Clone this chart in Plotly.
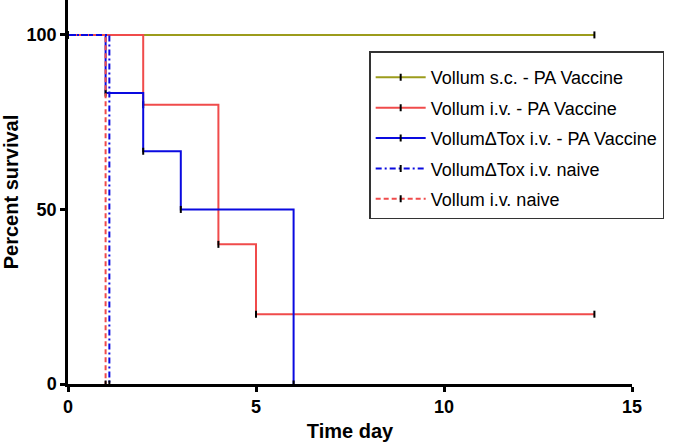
import plotly.graph_objects as go

# Kaplan-Meier data (time in days, percent survival)
sc_vac_t = [0, 14]
sc_vac_s = [100, 100]

iv_vac_t = [0, 2, 4, 5, 14]
iv_vac_s = [100, 80, 40, 20, 20]

dtox_vac_t = [0, 1, 2, 3, 6]
dtox_vac_s = [100, 83.33, 66.67, 50, 0]

dtox_naive_t = [0, 1.1]
dtox_naive_s = [100, 0]

iv_naive_t = [0, 1.0]
iv_naive_s = [100, 0]

names = ["Vollum s.c. - PA Vaccine", "Vollum i.v. - PA Vaccine",
         "Vollum\u0394Tox i.v. - PA Vaccine", "Vollum\u0394Tox i.v. naive",
         "Vollum i.v. naive"]

OLIVE = "#9C9C1C"
RED = "#F04B4B"
BLUE = "#0A0AE0"

FONT = "Arial, 'Liberation Sans', sans-serif"

series = [
    # (t, s, name, color, dash, legendrank) in drawing order
    (sc_vac_t, sc_vac_s, names[0], OLIVE, "solid", 1),
    (iv_vac_t, iv_vac_s, names[1], RED, "solid", 2),
    (dtox_vac_t, dtox_vac_s, names[2], BLUE, "solid", 3),
    (iv_naive_t, iv_naive_s, names[4], RED, "5px,3px", 5),
    (dtox_naive_t, dtox_naive_s, names[3], BLUE, "6px,3px,2px,3px", 4),
]

fig = go.Figure()
for t, s, name, color, dash, rank in series:
    fig.add_trace(go.Scatter(
        x=t, y=s, name=name, mode="lines+markers",
        line=dict(color=color, width=2, dash=dash, shape="hv"),
        marker=dict(symbol="line-ns", size=5, color="black",
                    line=dict(color="black", width=2)),
        legendrank=rank, legendgroup=name,
    ))

fig.update_layout(
    width=680, height=445,
    margin=dict(l=68, r=48, t=0, b=61, autoexpand=False),
    paper_bgcolor="white", plot_bgcolor="white",
    font=dict(family=FONT, color="black"),
    legend=dict(
        x=0.534, y=0.867, xanchor="left", yanchor="top",
        bordercolor="#333333", borderwidth=1.5, bgcolor="white",
        font=dict(family=FONT, size=18, color="black"),
        traceorder="grouped", tracegroupgap=4, itemwidth=50,
        title=dict(text="\u00a0", font=dict(size=5)),
    ),
    xaxis=dict(
        range=[0, 15], tickvals=[0, 5, 10, 15],
        showline=True, linecolor="black", linewidth=2.5,
        ticks="outside", ticklen=5, tickwidth=2.5, tickcolor="black",
        showgrid=False, zeroline=False,
        tickfont=dict(family=FONT, size=18, color="black", weight="bold"),
        title=dict(text="<b>Time day</b>", font=dict(family=FONT, size=20), standoff=8),
    ),
    yaxis=dict(
        range=[0, 110], tickvals=[0, 50, 100],
        showline=True, linecolor="black", linewidth=2.5,
        ticks="outside", ticklen=5, tickwidth=2.5, tickcolor="black",
        showgrid=False, zeroline=False,
        tickfont=dict(family=FONT, size=18, color="black", weight="bold"),
        title=dict(text="<b>Percent survival</b>", font=dict(family=FONT, size=20), standoff=6),
    ),
)

fig.write_html("out.html", config={"displayModeBar": False},
               post_script="document.body.style.margin='0';")
